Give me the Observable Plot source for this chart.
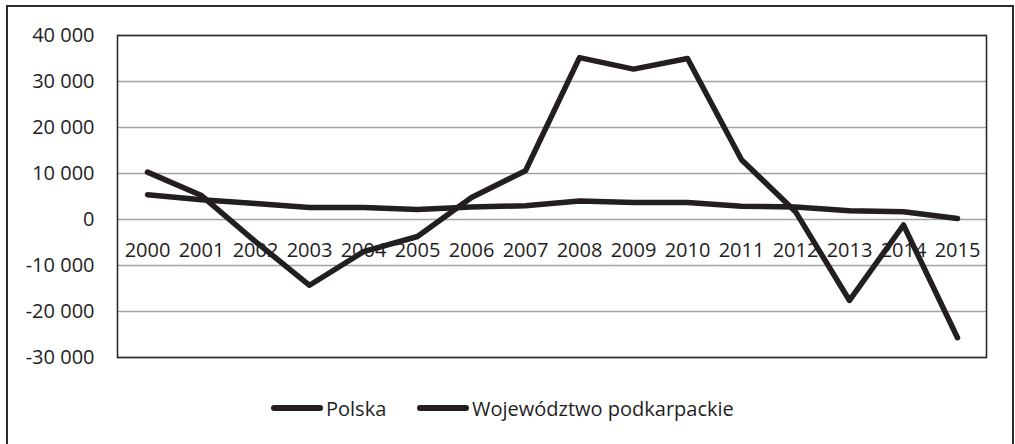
<!DOCTYPE html>
<html>
<head>
<meta charset="utf-8">
<script src="https://cdn.jsdelivr.net/npm/d3@7"></script>
<script src="https://cdn.jsdelivr.net/npm/@observablehq/plot@0.6"></script>
<style>
  html, body { margin: 0; padding: 0; background: #fff; }
  body { width: 1015px; height: 444px; position: relative; overflow: hidden; font-family: "Open Sans", sans-serif; }
  #outer { position: absolute; left: 6px; top: 5px; width: 1008px; height: 460px; border: 2px solid #2b2b2b; box-sizing: border-box; }
  #chart { position: absolute; left: 0; top: 0; }
  #legend { position: absolute; top: 395px; left: 0; width: 1015px; height: 26px; font-size: 20px; color: #1e1e1e; }
  .item { position: absolute; top: 0; display: flex; align-items: center; height: 26px; }
  .sw { width: 52px; height: 5.5px; background: #231f20; border-radius: 3px; margin-right: 3px; }
</style>
</head>
<body>
<div id="outer"></div>
<div id="chart"></div>
<div id="legend"></div>
<script>
const years = ["2000","2001","2002","2003","2004","2005","2006","2007","2008","2009","2010","2011","2012","2013","2014","2015"];
const polska = [10300, 5200, -4800, -14300, -7000, -3700, 4800, 10600, 35200, 32700, 35000, 13000, 1700, -17600, -1200, -25700];
const podkarpackie = [5400, 4300, 3500, 2600, 2600, 2200, 2700, 3000, 4000, 3700, 3700, 2900, 2700, 1900, 1700, 200];
const seriesNames = ["Polska", "Województwo podkarpackie"];
const yTicks = [-30000, -20000, -10000, 0, 10000, 20000, 30000, 40000];

const rows = [];
years.forEach((y, i) => {
  rows.push({year: y, value: polska[i], series: seriesNames[0]});
  rows.push({year: y, value: podkarpackie[i], series: seriesNames[1]});
});

const loc = d3.formatLocale({decimal: ",", thousands: " ", grouping: [3], currency: ["", ""], minus: "-"});
const fmt = loc.format(",d");

const chart = Plot.plot({
  width: 1015,
  height: 444,
  marginLeft: 117,
  marginRight: 29,
  marginTop: 35,
  marginBottom: 87,
  style: {fontFamily: "Open Sans", fontSize: "20px", color: "#1e1e1e", background: "transparent"},
  x: {type: "point", domain: years, padding: 0.5, axis: null},
  y: {domain: [-30000, 40000], axis: null},
  marks: [
    Plot.gridY(yTicks, {stroke: "#a3a3a3", strokeOpacity: 1, strokeWidth: 1.6}),
    Plot.axisY(yTicks, {tickSize: 0, tickPadding: 23, tickFormat: fmt, fontSize: 20, fill: "#1e1e1e", label: null}),
    Plot.frame({stroke: "#2b2b2b", strokeWidth: 1.6}),
    Plot.text(years, {x: d => d, y: () => 0, dy: 31, text: d => d, fontSize: 20, fill: "#1e1e1e", textAnchor: "middle"}),
    Plot.line(rows, {x: "year", y: "value", z: "series", stroke: "#231f20", strokeWidth: 5.5, strokeLinecap: "round", strokeLinejoin: "round"})
  ]
});
document.getElementById("chart").appendChild(chart);

const legend = document.getElementById("legend");
const lefts = [271, 417];
seriesNames.forEach((name, i) => {
  const it = document.createElement("div");
  it.className = "item";
  it.style.left = lefts[i] + "px";
  it.innerHTML = `<span class="sw"></span><span>${name}</span>`;
  legend.appendChild(it);
});
</script>
</body>
</html>
